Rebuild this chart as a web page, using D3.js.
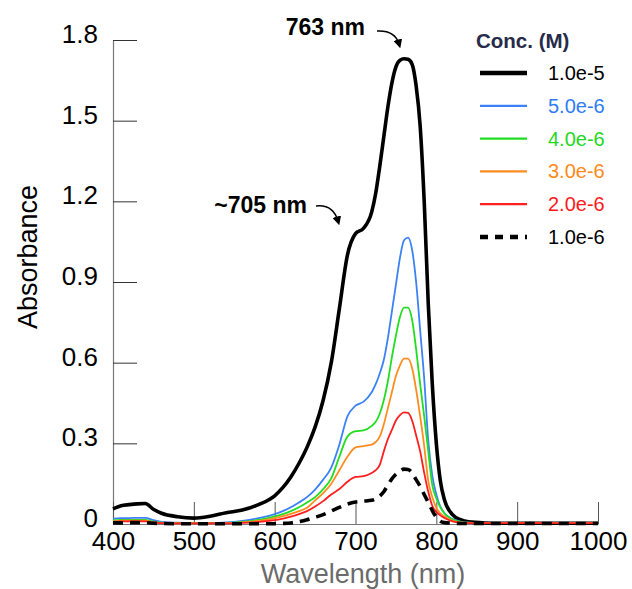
<!DOCTYPE html>
<html>
<head>
<meta charset="utf-8">
<script src="https://cdn.jsdelivr.net/npm/d3@7"></script>
<style>
  body { margin: 0; background: #fff; }
  svg { font-family: "Liberation Sans", Arial, Helvetica, sans-serif; }
</style>
</head>
<body>
<script>
//Width and height
var w = 632;
var h = 589;

//wavelength grid (nm)
var wavelengths = [400, 410, 420, 430, 440, 450, 460, 480, 500, 520, 540, 560, 580, 600, 610, 620, 630, 640, 650, 660, 670, 680, 690,
                   700, 710, 720, 725, 730, 735, 740, 745, 750, 755, 760, 765, 770, 775, 780, 785, 790, 795, 800, 805,
                   810, 820, 830, 840, 860, 880, 900, 950, 1000];

//absorbance values, one list per concentration
var abs1e5 = [0.056, 0.068, 0.072, 0.075, 0.076, 0.055, 0.040, 0.027, 0.022, 0.029, 0.042, 0.052, 0.072, 0.105, 0.135, 0.175, 0.225, 0.285, 0.360, 0.460, 0.600, 0.800, 1.000,
              1.080, 1.100, 1.160, 1.230, 1.330, 1.440, 1.550, 1.640, 1.700, 1.725, 1.730, 1.728, 1.710, 1.630, 1.480, 1.200, 0.820, 0.520, 0.300, 0.160,
              0.090, 0.035, 0.016, 0.008, 0.004, 0.003, 0.003, 0.003, 0.003];
var abs5e6 = [0.020, 0.022, 0.022, 0.023, 0.023, 0.014, 0.008, 0.005, 0.004, 0.004, 0.006, 0.012, 0.022, 0.037, 0.048, 0.062, 0.080, 0.100, 0.128, 0.165, 0.210, 0.295, 0.400,
              0.440, 0.455, 0.490, 0.520, 0.560, 0.610, 0.690, 0.790, 0.890, 0.990, 1.055, 1.065, 1.020, 0.900, 0.720, 0.540, 0.310, 0.180, 0.110, 0.065,
              0.040, 0.018, 0.009, 0.005, 0.003, 0.003, 0.003, 0.003, 0.003];
var abs4e6 = [0.013, 0.015, 0.015, 0.015, 0.015, 0.009, 0.005, 0.003, 0.003, 0.003, 0.004, 0.008, 0.015, 0.028, 0.037, 0.048, 0.062, 0.080, 0.100, 0.130, 0.170, 0.250, 0.325,
              0.345, 0.348, 0.365, 0.380, 0.410, 0.460, 0.530, 0.620, 0.700, 0.770, 0.805, 0.805, 0.760, 0.650, 0.520, 0.400, 0.270, 0.145, 0.095, 0.062,
              0.040, 0.017, 0.008, 0.005, 0.003, 0.003, 0.003, 0.003, 0.003];
var abs3e6 = [0.010, 0.012, 0.012, 0.012, 0.012, 0.007, 0.004, 0.002, 0.002, 0.002, 0.003, 0.006, 0.012, 0.022, 0.029, 0.038, 0.048, 0.060, 0.088, 0.115, 0.150, 0.200, 0.250,
              0.285, 0.290, 0.295, 0.305, 0.325, 0.370, 0.430, 0.490, 0.550, 0.590, 0.615, 0.615, 0.580, 0.500, 0.400, 0.290, 0.160, 0.100, 0.060, 0.040,
              0.028, 0.012, 0.006, 0.004, 0.003, 0.003, 0.003, 0.003, 0.003];
var abs2e6 = [0.008, 0.010, 0.010, 0.010, 0.010, 0.006, 0.003, 0.002, 0.002, 0.002, 0.002, 0.004, 0.008, 0.014, 0.020, 0.027, 0.037, 0.048, 0.065, 0.085, 0.110, 0.130, 0.157,
              0.175, 0.178, 0.190, 0.200, 0.220, 0.270, 0.315, 0.350, 0.385, 0.405, 0.415, 0.413, 0.385, 0.330, 0.270, 0.190, 0.120, 0.068, 0.045, 0.032,
              0.022, 0.010, 0.005, 0.003, 0.003, 0.003, 0.003, 0.003, 0.003];
var abs1e6 = [0.004, 0.004, 0.005, 0.005, 0.005, 0.003, 0.002, 0.001, 0.001, 0.001, 0.001, 0.001, 0.001, 0.001, 0.002, 0.004, 0.009, 0.016, 0.025, 0.035, 0.048, 0.062, 0.074,
              0.082, 0.085, 0.088, 0.093, 0.104, 0.120, 0.145, 0.168, 0.185, 0.197, 0.204, 0.203, 0.190, 0.165, 0.140, 0.110, 0.080, 0.050, 0.025, 0.010,
              0.005, 0.003, 0.002, 0.002, 0.002, 0.002, 0.002, 0.002, 0.002];

//legend labels and tick values
var concLabels = ["1.0e-5", "5.0e-6", "4.0e-6", "3.0e-6", "2.0e-6", "1.0e-6"];
var xTicks = [400, 500, 600, 700, 800, 900, 1000];
var yTicks = [0, 0.3, 0.6, 0.9, 1.2, 1.5, 1.8];

//styling per series
var seriesStyle = [
    {color: "#000000", width: 3.6, dash: null,  legendWidth: 4.5, text: "#000000"},
    {color: "#3b82f6", width: 1.8, dash: null,  legendWidth: 2.2, text: "#2f7cf6"},
    {color: "#22dd22", width: 1.8, dash: null,  legendWidth: 2.2, text: "#1fd81f"},
    {color: "#ff8c1f", width: 1.8, dash: null,  legendWidth: 2.2, text: "#ff8a1a"},
    {color: "#ff1f1f", width: 1.8, dash: null,  legendWidth: 2.2, text: "#ff1a1a"},
    {color: "#000000", width: 3.6, dash: "10,7", legendWidth: 4.5, text: "#000000"}
];
var seriesValues = [abs1e5, abs5e6, abs4e6, abs3e6, abs2e6, abs1e6];

var series = concLabels.map(function(lab, i) {
    return {
        label: lab,
        style: seriesStyle[i],
        points: wavelengths.map(function(wl, j) { return {x: wl, y: seriesValues[i][j]}; })
    };
});

//scales
var x = d3.scaleLinear().domain([400, 1000]).range([113, 598]);
var y = d3.scaleLinear().domain([0, 1.8]).range([524, 40]);

//Create SVG element
var svg = d3.select("body")
            .append("svg")
            .attr("width", w)
            .attr("height", h);

//y axis, ticks pointing inward
var yAxis = svg.append("g")
    .attr("transform", "translate(" + x(400) + ",0)")
    .call(d3.axisLeft(y)
        .tickValues(yTicks)
        .tickSizeInner(-24)
        .tickSizeOuter(0)
        .tickPadding(15)
        .tickFormat(function(d) { return d === 0 ? "0" : d3.format(".1f")(d); }));
yAxis.select(".domain").attr("stroke", "#777").attr("stroke-width", 1.2);
yAxis.selectAll(".tick line").attr("stroke", "#333").attr("stroke-width", 1);
yAxis.selectAll(".tick text").attr("font-size", 26).attr("fill", "#000").attr("dy", "0.1em")
    .style("font-family", "'Liberation Sans', Arial, sans-serif");

//x axis, ticks pointing upward
var xAxis = svg.append("g")
    .attr("transform", "translate(0," + y(0) + ")")
    .call(d3.axisBottom(x)
        .tickValues(xTicks)
        .tickSizeInner(-22)
        .tickSizeOuter(0)
        .tickPadding(8)
        .tickFormat(d3.format("d")));
xAxis.select(".domain").attr("stroke", "#777").attr("stroke-width", 1.2);
xAxis.selectAll(".tick line").attr("stroke", "#555").attr("stroke-width", 1);
xAxis.selectAll(".tick text").attr("font-size", 26).attr("fill", "#000")
    .style("font-family", "'Liberation Sans', Arial, sans-serif");

//axis titles
svg.append("text")
    .attr("x", 363)
    .attr("y", 583)
    .attr("text-anchor", "middle")
    .attr("font-size", 27)
    .attr("fill", "#6b6b6b")
    .text("Wavelength (nm)");

svg.append("text")
    .attr("transform", "translate(37,257) rotate(-90)")
    .attr("text-anchor", "middle")
    .attr("font-size", 27)
    .attr("fill", "#000")
    .text("Absorbance");

//line generator
var line = d3.line()
    .x(function(d) { return x(d.x); })
    .y(function(d) { return y(d.y); })
    .curve(d3.curveMonotoneX);

//draw order: thick black first, then colours, dashed on top
svg.append("g")
    .selectAll("path")
    .data(series)
    .enter()
    .append("path")
    .attr("d", function(d) { return line(d.points); })
    .attr("fill", "none")
    .attr("stroke", function(d) { return d.style.color; })
    .attr("stroke-width", function(d) { return d.style.width; })
    .attr("stroke-dasharray", function(d) { return d.style.dash; })
    .attr("stroke-linejoin", "round");

//annotations
svg.append("defs").append("marker")
    .attr("id", "arrow")
    .attr("viewBox", "0 0 10 10")
    .attr("refX", 5)
    .attr("refY", 5)
    .attr("markerWidth", 9)
    .attr("markerHeight", 9)
    .attr("markerUnits", "userSpaceOnUse")
    .attr("orient", "auto")
    .append("path")
    .attr("d", "M0,0 L10,5 L0,10 Z")
    .attr("fill", "#000");

var annotations = [
    {label: "763 nm", tx: 365, ty: 35, path: "M377,31 Q395,30 399,44"},
    {label: "~705 nm", tx: 307, ty: 213, path: "M316,206 Q333,204 338,221"}
];
annotations.forEach(function(a) {
    svg.append("text")
        .attr("x", a.tx)
        .attr("y", a.ty)
        .attr("text-anchor", "end")
        .attr("font-size", 23)
        .attr("font-weight", "bold")
        .attr("fill", "#000")
        .text(a.label);
    svg.append("path")
        .attr("d", a.path)
        .attr("fill", "none")
        .attr("stroke", "#000")
        .attr("stroke-width", 1.5)
        .attr("marker-end", "url(#arrow)");
});

//legend
var legend = svg.append("g");
legend.append("text")
    .attr("x", 476)
    .attr("y", 48)
    .attr("font-size", 20.5)
    .attr("font-weight", "bold")
    .attr("fill", "#262b4a")
    .text("Conc. (M)");

var rowY = d3.scalePoint().domain(concLabels).range([73, 237]);
var rows = legend.selectAll("g.row")
    .data(series)
    .enter()
    .append("g")
    .attr("class", "row")
    .attr("transform", function(d) { return "translate(0," + rowY(d.label) + ")"; });
rows.append("line")
    .attr("x1", 480)
    .attr("x2", 527)
    .attr("stroke", function(d) { return d.style.color; })
    .attr("stroke-width", function(d) { return d.style.legendWidth; })
    .attr("stroke-dasharray", function(d) { return d.style.dash ? "8,7" : null; });
rows.append("text")
    .attr("x", 548)
    .attr("y", 7)
    .attr("font-size", 20)
    .attr("fill", function(d) { return d.style.text; })
    .text(function(d) { return d.label; });
</script>
</body>
</html>
